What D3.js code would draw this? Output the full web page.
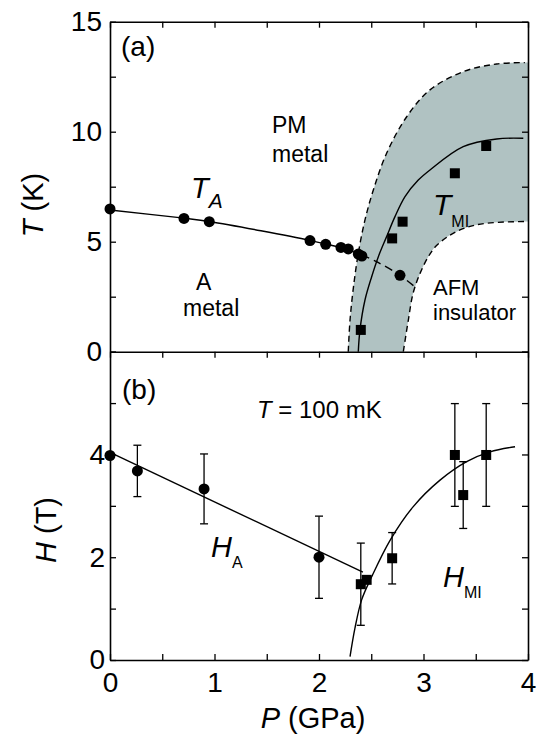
<!DOCTYPE html>
<html><head><meta charset="utf-8">
<script src="https://cdn.jsdelivr.net/npm/d3@7"></script>
<style>
body{margin:0;background:#fff}
svg{display:block}
text{font-family:"Liberation Sans",Arial,Helvetica,sans-serif;fill:#000}
</style>
</head><body>
<svg id="chart" width="540" height="741"></svg>
<script>
// ---------- tick data ----------
const pressureTicks = [0,0.5,1,1.5,2,2.5,3,3.5,4];
const pressureTickLabels = [0,1,2,3,4];
const tempTicks = [0,2.5,5,7.5,10,12.5,15];
const tempTickLabels = [0,5,10,15];
const fieldTicks = [0,1,2,3,4,5,6];
const fieldTickLabels = [0,2,4];

// ---------- panel (a) data ----------
const taCircleP = [0,0.708,0.95,1.914,2.064,2.21,2.28,2.376,2.41,2.775];
const taCircleT = [6.49,6.06,5.91,5.05,4.88,4.74,4.67,4.44,4.35,3.47];
const tmiSquareP = [2.40,2.70,2.80,3.30,3.60];
const tmiSquareT = [0.99,5.15,5.91,8.11,9.35];

const taLineP = [0,0.708,0.95,1.914,2.064,2.21,2.41];
const taLineT = [6.44,6.07,5.92,5.06,4.89,4.73,4.40];
const taDashP = [2.41,2.552,2.775,2.935];
const taDashT = [4.40,4.09,3.47,2.88];

const tmiCurveP = [2.376,2.392,2.44,2.504,2.568,2.647,2.727,2.823,2.95,3.062,3.38,3.70,3.955];
const tmiCurveT = [0,0.99,2.35,3.41,4.32,5.23,6.14,7.05,7.80,8.26,9.32,9.67,9.70];

const upperBoundP = [2.28,2.297,2.33,2.376,2.44,2.52,2.647,2.839,3.062,3.38,3.70,3.97];
const upperBoundT = [0,1.44,2.95,4.47,5.99,7.35,9.02,10.68,11.9,12.73,13.08,13.14];
const lowerBoundP = [2.807,2.855,2.90,2.967,3.046,3.12,3.254,3.413,3.605,3.97];
const lowerBoundT = [0,1.44,2.65,3.56,4.32,4.80,5.30,5.65,5.84,5.92];

// ---------- panel (b) data ----------
const haCircleP = [0,0.262,0.90,2.0];
const haCircleH = [3.98,3.68,3.33,2.0];
const haCircleErr = [0,0.5,0.68,0.8];
const hmiSquareP = [2.40,2.456,2.70,3.30,3.38,3.60];
const hmiSquareH = [1.475,1.56,1.98,3.99,3.21,3.99];
const hmiSquareErr = [0.8,0,0.5,1.0,0.65,1.0];

const haLineP = [0,2.42];
const haLineH = [4.04,1.71];
const hmiCurveP = [2.297,2.344,2.408,2.504,2.68,2.90,3.158,3.413,3.636,3.876];
const hmiCurveH = [0.065,0.62,1.17,1.62,2.33,2.98,3.50,3.86,4.05,4.15];

// ---------- setup ----------
const svg = d3.select("#chart");
const x = d3.scaleLinear().domain([0,4]).range([110,528]);
const yA = d3.scaleLinear().domain([0,15]).range([351.7,21.7]);
const yB = d3.scaleLinear().domain([0,6]).range([660,351.7]);
const zip = (a,b)=>a.map((v,i)=>[v,b[i]]);

const shadeColor = "#b0c2c2";
const lw = 1.4;

const lineA = d3.line().x(d=>x(d[0])).y(d=>yA(d[1])).curve(d3.curveCatmullRom.alpha(0.5));
const lineB = d3.line().x(d=>x(d[0])).y(d=>yB(d[1])).curve(d3.curveCatmullRom.alpha(0.5));
const straightB = d3.line().x(d=>x(d[0])).y(d=>yB(d[1])).curve(d3.curveLinear);

// ---------- panel (a) ----------
const gA = svg.append("g");
const upperPts = zip(upperBoundP, upperBoundT);
const lowerPts = zip(lowerBoundP, lowerBoundT);
const shadePath = lineA(upperPts)
  + "L" + x(4) + "," + yA(upperBoundT[upperBoundT.length-1])
  + "L" + x(4) + "," + yA(lowerBoundT[lowerBoundT.length-1])
  + lineA(lowerPts.slice().reverse()).replace(/^M/,"L") + "Z";
gA.append("path").attr("d", shadePath).attr("fill", shadeColor).attr("stroke","none");

[upperPts, lowerPts].forEach(p=>{
  gA.append("path").attr("d", lineA(p)).attr("fill","none")
    .attr("stroke","#000").attr("stroke-width",lw).attr("stroke-dasharray","6,4");
});
gA.append("path").attr("d", lineA(zip(taDashP,taDashT))).attr("fill","none")
  .attr("stroke","#000").attr("stroke-width",lw).attr("stroke-dasharray","8,5");
gA.append("path").attr("d", lineA(zip(taLineP,taLineT))).attr("fill","none")
  .attr("stroke","#000").attr("stroke-width",lw);
gA.append("path").attr("d", lineA(zip(tmiCurveP,tmiCurveT))).attr("fill","none")
  .attr("stroke","#000").attr("stroke-width",lw);

gA.selectAll("circle.ta").data(zip(taCircleP,taCircleT)).join("circle")
  .attr("cx",d=>x(d[0])).attr("cy",d=>yA(d[1])).attr("r",5.5).attr("fill","#000");
gA.selectAll("rect.tmi").data(zip(tmiSquareP,tmiSquareT)).join("rect")
  .attr("x",d=>x(d[0])-5).attr("y",d=>yA(d[1])-5).attr("width",10).attr("height",10).attr("fill","#000");

// ---------- panel (b) ----------
const gB = svg.append("g");
gB.append("path").attr("d", straightB(zip(haLineP,haLineH))).attr("fill","none")
  .attr("stroke","#000").attr("stroke-width",lw);
gB.append("path").attr("d", lineB(zip(hmiCurveP,hmiCurveH))).attr("fill","none")
  .attr("stroke","#000").attr("stroke-width",lw);

function errBars(P,H,E){
  const data = P.map((p,i)=>({p,h:H[i],e:E[i]})).filter(d=>d.e>0);
  const g = gB.append("g").attr("stroke","#000").attr("stroke-width",1.3);
  g.selectAll("line.v").data(data).join("line")
    .attr("x1",d=>x(d.p)).attr("x2",d=>x(d.p)).attr("y1",d=>yB(d.h-d.e)).attr("y2",d=>yB(d.h+d.e));
  g.selectAll("line.t").data(data).join("line").attr("class","t")
    .attr("x1",d=>x(d.p)-4).attr("x2",d=>x(d.p)+4).attr("y1",d=>yB(d.h+d.e)).attr("y2",d=>yB(d.h+d.e));
  g.selectAll("line.b").data(data).join("line").attr("class","b")
    .attr("x1",d=>x(d.p)-4).attr("x2",d=>x(d.p)+4).attr("y1",d=>yB(d.h-d.e)).attr("y2",d=>yB(d.h-d.e));
}
errBars(haCircleP,haCircleH,haCircleErr);
errBars(hmiSquareP,hmiSquareH,hmiSquareErr);

gB.selectAll("circle.ha").data(zip(haCircleP,haCircleH)).join("circle")
  .attr("cx",d=>x(d[0])).attr("cy",d=>yB(d[1])).attr("r",5.5).attr("fill","#000");
gB.selectAll("rect.hmi").data(zip(hmiSquareP,hmiSquareH)).join("rect")
  .attr("x",d=>x(d[0])-5).attr("y",d=>yB(d[1])-5).attr("width",10).attr("height",10).attr("fill","#000");

// ---------- axes ----------
const fmtFrom = labels => v => labels.includes(v) ? String(v) : "";
function styleAxis(g){
  g.select(".domain").attr("stroke","#000").attr("stroke-width",1.6);
  g.selectAll(".tick line").attr("stroke","#000").attr("stroke-width",1.3);
  g.selectAll(".tick text").attr("font-size",28).attr("fill","#000")
    .attr("font-family",'"Liberation Sans",Arial,sans-serif');
}
const tk = 6;
// panel a
svg.append("g").attr("transform",`translate(${x(0)},0)`)
  .call(d3.axisLeft(yA).tickValues(tempTicks).tickFormat(fmtFrom(tempTickLabels)).tickSizeInner(-tk).tickSizeOuter(0).tickPadding(8))
  .call(styleAxis);
svg.append("g").attr("transform",`translate(${x(4)},0)`)
  .call(d3.axisRight(yA).tickValues(tempTicks).tickFormat("").tickSizeInner(-tk).tickSizeOuter(0))
  .call(styleAxis);
svg.append("g").attr("transform",`translate(0,${yA(15)})`)
  .call(d3.axisTop(x).tickValues(pressureTicks).tickFormat("").tickSizeInner(-tk).tickSizeOuter(0))
  .call(styleAxis);
// panel b
svg.append("g").attr("transform",`translate(${x(0)},0)`)
  .call(d3.axisLeft(yB).tickValues(fieldTicks).tickFormat(fmtFrom(fieldTickLabels)).tickSizeInner(-tk).tickSizeOuter(0).tickPadding(5))
  .call(styleAxis);
svg.append("g").attr("transform",`translate(${x(4)},0)`)
  .call(d3.axisRight(yB).tickValues(fieldTicks).tickFormat("").tickSizeInner(-tk).tickSizeOuter(0))
  .call(styleAxis);
svg.append("g").attr("transform",`translate(0,${yB(6)})`)
  .call(d3.axisTop(x).tickValues(pressureTicks).tickFormat("").tickSizeInner(-tk).tickSizeOuter(0))
  .call(styleAxis);
svg.append("g").attr("transform",`translate(0,${yB(0)})`)
  .call(d3.axisBottom(x).tickValues(pressureTicks).tickFormat(fmtFrom(pressureTickLabels)).tickSizeInner(-tk).tickSizeOuter(0).tickPadding(12))
  .call(styleAxis);

// ---------- text ----------
function txt(xp, yp, parts, opts={}){
  const t = svg.append("text").attr("x",xp).attr("y",yp)
    .attr("font-size",opts.size||23).attr("text-anchor",opts.anchor||"start");
  if (opts.rotate) t.attr("transform",`rotate(-90,${xp},${yp})`);
  parts.forEach(p=>{
    const s = t.append("tspan").text(p.t);
    if (p.i) s.attr("font-style","italic");
    if (p.size) s.attr("font-size",p.size);
    if (p.dy!==undefined) s.attr("dy",p.dy);
  });
  return t;
}
txt(121,56,[{t:"(a)"}],{size:28});
txt(122,399,[{t:"(b)"}],{size:28});
txt(272,133,[{t:"PM"}]);
txt(272,162,[{t:"metal"}]);
txt(196,290,[{t:"A"}]);
txt(183,316,[{t:"metal"}]);
txt(433,295,[{t:"AFM"}],{size:22});
txt(433,320,[{t:"insulator"}],{size:22});
txt(191,198,[{t:"T",i:true,size:29},{t:"A",i:true,size:21,dy:10}]);
txt(433,215,[{t:"T",i:true,size:30},{t:"MI",size:16,dy:12}]);
txt(257,418,[{t:"T",i:true},{t:" = 100 mK"}],{size:24});
txt(211,557,[{t:"H",i:true,size:29},{t:"A",size:16,dy:11}]);
txt(443,587,[{t:"H",i:true,size:29},{t:"MI",size:16,dy:11}]);
// axis titles
txt(43,205,[{t:"T",i:true},{t:" (K)"}],{size:29,anchor:"middle",rotate:true});
txt(56,530,[{t:"H",i:true},{t:" (T)"}],{size:29,anchor:"middle",rotate:true});
txt(313,728,[{t:"P",i:true},{t:" (GPa)"}],{size:29,anchor:"middle"});
</script>
</body></html>
